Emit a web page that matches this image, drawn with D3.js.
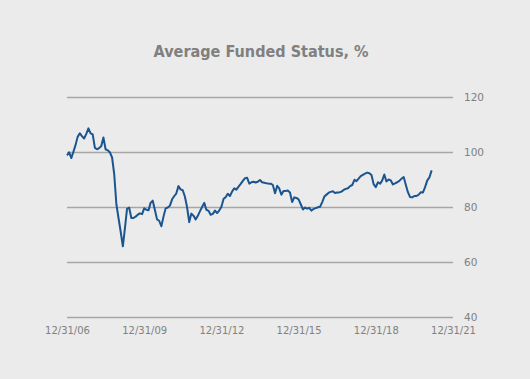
<!DOCTYPE html>
<html>
<head>
<meta charset="utf-8">
<script src="https://cdn.jsdelivr.net/npm/d3@7"></script>
<style>
html, body { margin: 0; padding: 0; background: #ebebeb; }
svg { display: block; }
</style>
</head>
<body>
<svg id="chart" width="530" height="379"></svg>
<script>
const title = "Average Funded Status, %";
const startDate = "2006-12-31";
const xTickLabels = ["12/31/06", "12/31/09", "12/31/12", "12/31/15", "12/31/18", "12/31/21"];
const xTickDates = ["2006-12-31", "2009-12-31", "2012-12-31", "2015-12-31", "2018-12-31", "2021-12-31"];
const yTicks = [40, 60, 80, 100, 120];
// Month-end funded status, Dec 2006 onward
const fundedStatus = [
  98.8, 99.9, 97.8, 100.0, 102.5, 105.5, 106.8, 105.8, 104.9, 106.6,
  108.6, 106.8, 106.4, 101.5, 101.0, 101.4, 102.2, 105.3, 101.0, 100.6,
  99.9, 98.0, 92.0, 81.0, 76.0, 71.0, 65.7, 72.0, 79.3, 79.8,
  76.0, 76.0, 76.5, 77.2, 77.7, 77.4, 79.5, 79.0, 78.8, 81.5,
  82.3, 79.0, 75.5, 75.0, 73.0, 76.5, 79.5, 79.8, 80.5, 82.8,
  84.0, 84.9, 87.6, 86.4, 86.1, 83.8, 80.0, 74.5, 77.6, 76.8,
  75.5, 76.8, 78.5, 80.0, 81.5, 79.0, 78.6, 77.2, 77.5, 78.7,
  77.8, 78.8, 80.1, 83.0, 83.6, 84.8, 84.0, 85.6, 86.8, 86.3,
  87.4, 88.4, 89.5, 90.5, 90.6, 88.5, 89.0, 89.2, 88.9, 89.2,
  89.8, 89.0, 88.8, 88.6, 88.5, 88.5, 88.0, 85.0, 87.7, 86.8,
  84.5, 85.8, 85.8, 86.0, 85.3, 81.8, 83.5, 83.3, 82.8, 81.0,
  79.1, 79.8, 79.4, 79.7, 78.7, 79.3, 79.6, 79.9, 80.1, 81.8,
  83.8, 84.5, 85.2, 85.5, 85.7, 85.1, 85.3, 85.3, 85.6, 86.2,
  86.6, 86.8, 87.6, 88.0, 89.9, 89.4, 90.3, 91.2, 91.7, 92.1,
  92.5, 92.3, 91.6, 88.3, 87.2, 89.0, 88.5, 89.6, 91.8, 89.3,
  90.0, 89.7, 88.2, 88.6, 89.0, 89.5, 90.3, 90.9, 88.0, 85.4,
  83.6, 83.5, 84.0, 84.0, 84.5, 85.4, 85.3, 87.3, 89.7, 90.8,
  93.3
];

const parse = d3.timeParse("%Y-%m-%d");
const t0 = parse(startDate);
const data = fundedStatus.map((v, i) => ({ date: d3.timeMonth.offset(t0, i), value: v }));

const svg = d3.select("#chart");
const plotLeft = 67, plotRight = 453, plotTop = 97, plotBottom = 317;

const x = d3.scaleTime()
  .domain([parse(xTickDates[0]), parse(xTickDates[xTickDates.length - 1])])
  .range([plotLeft, plotRight]);
const y = d3.scaleLinear().domain([40, 120]).range([plotBottom, plotTop]);

// Title
svg.append("text")
  .attr("x", 261).attr("y", 57)
  .attr("text-anchor", "middle")
  .attr("font-family", "'DejaVu Sans', sans-serif")
  .attr("font-weight", "bold")
  .attr("font-size", 16)
  .attr("textLength", 215)
  .attr("lengthAdjust", "spacingAndGlyphs")
  .attr("fill", "#808080")
  .text(title);

// Y axis (gridlines + labels on right)
const yAxis = d3.axisRight(y)
  .tickValues(yTicks)
  .tickSize(plotRight - plotLeft)
  .tickPadding(11)
  .tickFormat(d3.format("d"));
const gy = svg.append("g")
  .attr("transform", `translate(${plotLeft},0)`)
  .call(yAxis);
gy.select(".domain").remove();
gy.selectAll(".tick line").attr("stroke", "#a6a6a6").attr("stroke-width", 1.6);
gy.selectAll(".tick text")
  .attr("fill", "#808080")
  .attr("font-family", "'DejaVu Sans', sans-serif")
  .attr("font-size", 10.5);

// X axis labels
const xAxis = d3.axisBottom(x)
  .tickValues(xTickDates.map(parse))
  .tickSize(0)
  .tickPadding(0)
  .tickFormat((d, i) => xTickLabels[i]);
const gx = svg.append("g")
  .attr("transform", `translate(0,${plotBottom + 10})`)
  .call(xAxis);
gx.select(".domain").remove();
gx.selectAll(".tick text")
  .attr("fill", "#808080")
  .attr("font-family", "'DejaVu Sans', sans-serif")
  .attr("font-size", 10)
  .attr("dy", "0.71em");

// Line
const line = d3.line().x(d => x(d.date)).y(d => y(d.value));
svg.append("path")
  .datum(data)
  .attr("fill", "none")
  .attr("stroke", "#1a5590")
  .attr("stroke-width", 2)
  .attr("stroke-linejoin", "round")
  .attr("d", line);
</script>
</body>
</html>
